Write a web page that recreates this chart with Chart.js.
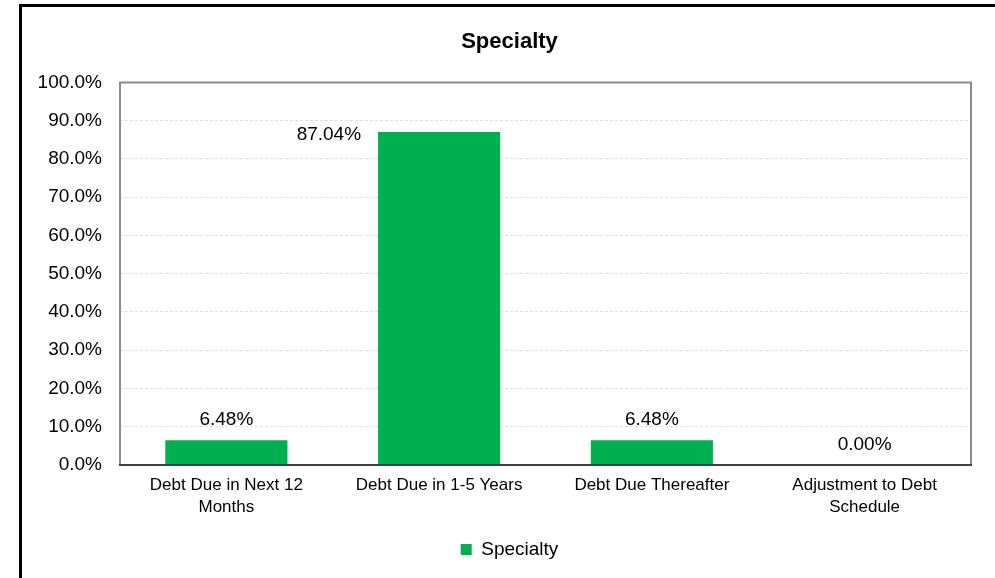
<!DOCTYPE html>
<html>
<head>
<meta charset="utf-8">
<script src="https://cdn.jsdelivr.net/npm/chart.js@4/dist/chart.umd.min.js"></script>
<style>
  html, body { margin: 0; padding: 0; background: #fff; overflow: hidden; }
  #frame { position: absolute; left: 19px; top: 4px; width: 1000px; height: 600px; border: 3px solid #000; }
  #wrap { position: absolute; left: 22px; top: 0; width: 975px; height: 578px; }
</style>
</head>
<body>
<div id="frame"></div>
<div id="wrap"><canvas id="debtChart"></canvas></div>
<script>
  "use strict";
  const categories = [
    ["Debt Due in Next 12", "Months"],
    "Debt Due in 1-5 Years",
    "Debt Due Thereafter",
    ["Adjustment to Debt", "Schedule"]
  ];
  const specialtyValues = [6.48, 87.04, 6.48, 0.00];
  const seriesName = "Specialty";
  const barColor = "#00b050";
  const fontFamily = "'Liberation Sans', Arial, sans-serif";

  // plot border plus value labels above each bar (the tall one sits beside it)
  const chartDecor = {
    id: "chartDecor",
    afterDatasetsDraw(chart) {
      const { ctx, chartArea: a } = chart;
      ctx.save();
      ctx.strokeStyle = "#8c8c8c";
      ctx.lineWidth = 2;
      ctx.beginPath();
      ctx.moveTo(a.left, a.bottom);
      ctx.lineTo(a.left, a.top);
      ctx.lineTo(a.right, a.top);
      ctx.lineTo(a.right, a.bottom);
      ctx.stroke();
      ctx.strokeStyle = "#404040";
      ctx.beginPath();
      ctx.moveTo(a.left - 1, a.bottom);
      ctx.lineTo(a.right + 1, a.bottom);
      ctx.stroke();

      ctx.font = "19px " + fontFamily;
      ctx.fillStyle = "#000";
      ctx.textBaseline = "middle";
      const meta = chart.getDatasetMeta(0);
      meta.data.forEach((bar, i) => {
        const text = specialtyValues[i].toFixed(2) + "%";
        if (specialtyValues[i] > 80) {
          ctx.textAlign = "right";
          ctx.fillText(text, bar.x - bar.width / 2 - 17, bar.y + 3);
        } else {
          ctx.textAlign = "center";
          ctx.fillText(text, bar.x, bar.y - 20);
        }
      });
      ctx.restore();
    }
  };

  new Chart(document.getElementById("debtChart"), {
    type: "bar",
    data: {
      labels: categories,
      datasets: [{
        label: seriesName,
        data: specialtyValues,
        backgroundColor: barColor,
        borderWidth: 0,
        categoryPercentage: 1,
        barPercentage: 0.574
      }]
    },
    options: {
      responsive: true,
      maintainAspectRatio: false,
      animation: false,
      layout: { padding: { top: 0, right: 0, bottom: 9, left: 0 } },
      plugins: {
        title: {
          display: true,
          text: seriesName,
          color: "#000",
          font: { family: fontFamily, size: 22, weight: "bold" },
          padding: { top: 29, bottom: 27 }
        },
        legend: {
          position: "bottom",
          labels: {
            color: "#000",
            font: { family: fontFamily, size: 19 },
            boxWidth: 11,
            boxHeight: 11,
            padding: 6,
            generateLabels: (chart) => [{
              text: seriesName,
              fillStyle: barColor,
              strokeStyle: barColor,
              lineWidth: 0,
              datasetIndex: 0
            }]
          }
        },
        tooltip: { enabled: false }
      },
      scales: {
        x: {
          grid: { display: false, drawTicks: false },
          border: { display: false },
          ticks: {
            color: "#000",
            font: { family: fontFamily, size: 17, lineHeight: 1.25 },
            padding: 10,
            maxRotation: 0,
            autoSkip: false
          },
          afterFit: (scale) => { scale.height = 69; }
        },
        y: {
          min: 0,
          max: 100,
          grid: { color: "#e0e0e0", lineWidth: 1, drawTicks: false },
          border: { display: false, dash: [3, 2] },
          ticks: {
            stepSize: 10,
            color: "#000",
            font: { family: fontFamily, size: 19 },
            padding: 18,
            callback: (v) => v.toFixed(1) + "%"
          },
          afterFit: (scale) => { scale.width = 98; }
        },
        // empty right-hand gutter so the plot ends short of the frame
        gutter: {
          type: "linear",
          position: "right",
          grid: { display: false, drawTicks: false },
          border: { display: false },
          ticks: { display: false },
          afterFit: (scale) => { scale.width = 26; }
        }
      }
    },
    plugins: [chartDecor]
  });
</script>
</body>
</html>
